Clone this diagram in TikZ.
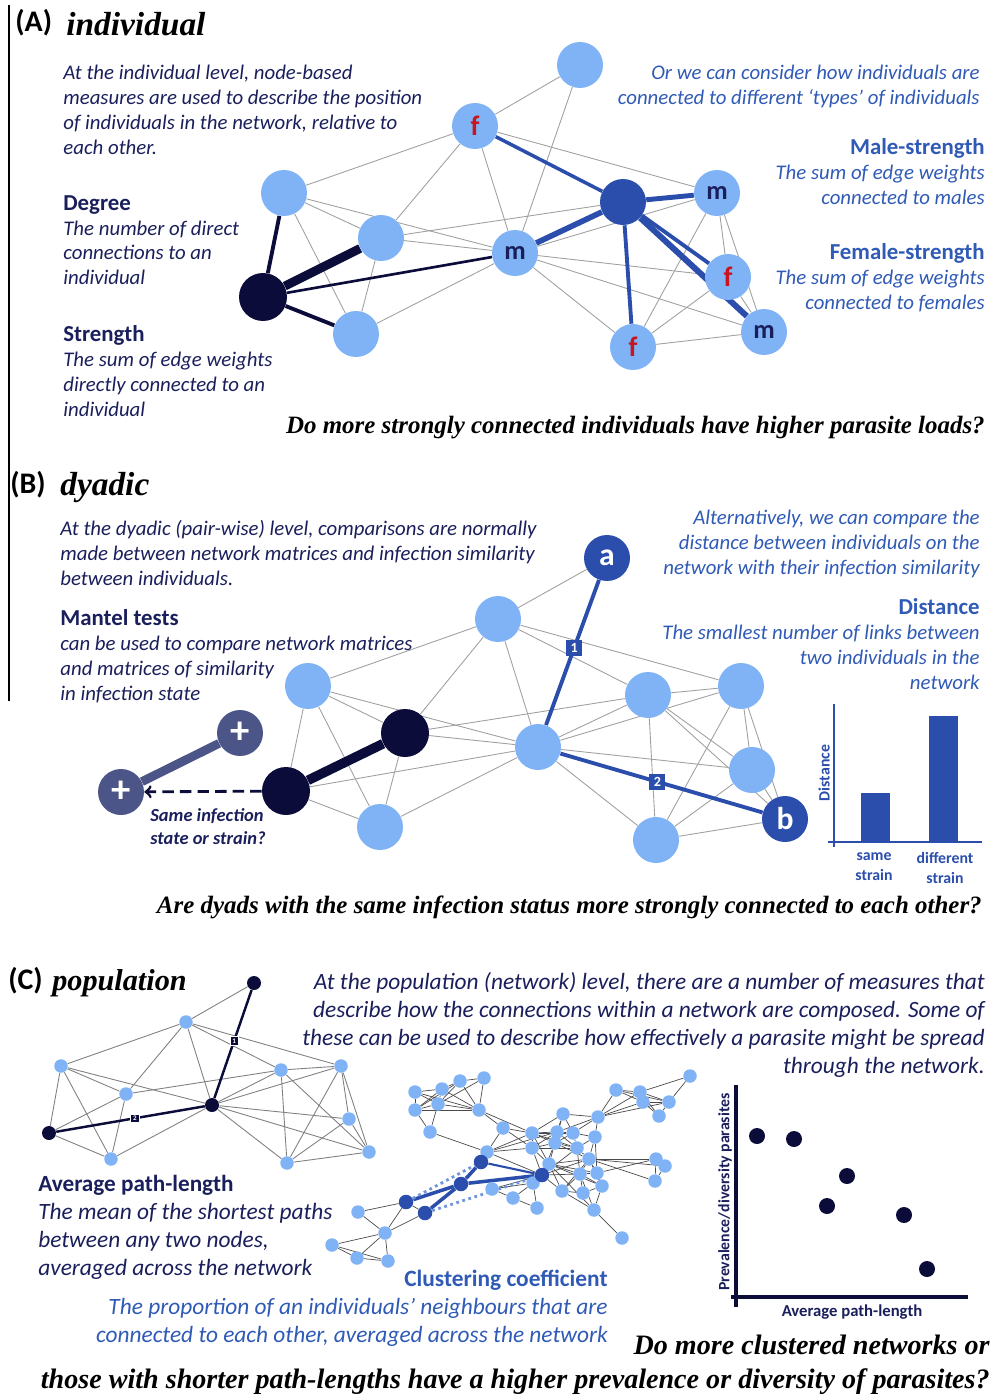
\documentclass[tikz,border=0pt]{standalone}
\usepackage{fontspec}
\setmainfont{Carlito}
\newfontfamily\qfont{Liberation Serif}
\usetikzlibrary{positioning}

\definecolor{lightnode}{HTML}{80B3F5}
\definecolor{navynode}{HTML}{0B0C3A}
\definecolor{midblue}{HTML}{2B4EAD}
\definecolor{navytext}{HTML}{1A1F5C}
\definecolor{bluetext}{HTML}{2F5AB5}
\definecolor{slatenode}{HTML}{4B5588}
\definecolor{femred}{HTML}{C8141E}
\definecolor{edgegrey}{HTML}{A0A0A0}
\definecolor{netgrey}{HTML}{4A4A4A}
\definecolor{dotblue}{HTML}{6F95DD}

\newcommand{\bodyfont}{\fontsize{11.85}{14.17}\selectfont}
\newcommand{\popfont}{\fontsize{13.3}{15.87}\selectfont}
\newcommand{\headfont}{\upshape\bfseries\fontsize{13}{14.17}\selectfont}

\pgfdeclarelayer{edges}
\pgfsetlayers{edges,main}

\tikzset{
  lnode/.style={circle, fill=lightnode, minimum size=0.92cm, inner sep=0},
  darknode/.style={lnode, fill=navynode, minimum size=0.96cm},
  sexnode/.style={lnode, fill=midblue},
  mnode/.style={lnode, text=navytext, font=\bfseries\fontsize{15}{15}\selectfont},
  fnode/.style={lnode, text=femred, font=\bfseries\fontsize{16}{16}\selectfont},
  endnode/.style={lnode, fill=midblue, text=white, font=\bfseries\fontsize{18}{18}\selectfont},
  plusnode/.style={lnode, fill=slatenode, text=white, font=\bfseries\fontsize{22}{22}\selectfont},
  tlight/.style={circle, fill=lightnode, minimum size=0.27cm, inner sep=0},
  tnavy/.style={circle, fill=navynode, minimum size=0.28cm, inner sep=0},
  tblue/.style={circle, fill=midblue, minimum size=0.29cm, inner sep=0},
  dot/.style={circle, fill=navynode, minimum size=0.32cm, inner sep=0},
  edge/.style={draw=edgegrey, line width=0.5pt},
  netedge/.style={draw=netgrey, line width=0.4pt},
  navyedge/.style={draw=navynode},
  blueedge/.style={draw=midblue},
  numbox/.style={fill=midblue, text=white, font=\bfseries\fontsize{8}{8}\selectfont, minimum size=0.32cm, inner sep=0},
  minibox/.style={fill=navynode, draw=white, line width=0.3pt, text=white, font=\bfseries\fontsize{4}{4}\selectfont, minimum size=0.17cm, inner sep=0},
  panel/.style={inner sep=0, font=\bfseries\fontsize{17}{17}\selectfont, anchor=base west},
  ptitle/.style={inner sep=0, font=\qfont\bfseries\itshape\fontsize{19}{19}\selectfont, anchor=base west},
  question/.style={inner sep=0, font=\qfont\bfseries\itshape\fontsize{14.2}{14.2}\selectfont, anchor=base east},
  lefttext/.style={inner sep=0, text=navytext, font=\bodyfont\itshape, align=left, anchor=north west},
  righttext/.style={inner sep=0, text=bluetext, font=\bodyfont\itshape, align=right, anchor=north east},
  axlabel/.style={inner sep=0, font=\bfseries\fontsize{9}{11.3}\selectfont, align=center},
}

\begin{document}
\begin{tikzpicture}[x=0.02cm, y=-0.02cm]
\useasboundingbox (0,0) rectangle (994,1395);

% (A) individual
\draw[line width=0.8pt] (9,5) -- (9,701);
\node[panel] (alab) at (15,32) {(A)};
\node[ptitle] (atitle) at (66,36) {individual};

\node[lefttext] (aintro) at (63,65) {At the individual level, node-based\\ measures are used to describe the position\\ of individuals in the network, relative to\\ each other.};
\node[lefttext] (adegree) at (63,195) {{\headfont Degree}\\ The number of direct\\ connections to an\\ individual};
\node[lefttext] (astrength) at (63,325) {{\headfont Strength}\\ The sum of edge weights\\ directly connected to an\\ individual};
\node[righttext] (atypes) at (980,65) {Or we can consider how individuals are\\ connected to different `types' of individuals};
\node[righttext] (amale) at (985,138) {{\headfont Male-strength}\\ The sum of edge weights\\ connected to males};
\node[righttext] (afemale) at (985,243) {{\headfont Female-strength}\\ The sum of edge weights\\ connected to females};
\node[question] (aquest) at (985,433) {Do more strongly connected individuals have higher parasite loads?};

\node[lnode] (atop) at (580,65) {};
\node[fnode] (af1) at (475,126) {f};
\node[lnode] (al1) at (284,193) {};
\node[lnode] (al2) at (381,238) {};
\node[darknode] (afocal) at (263,297) {};
\node[lnode] (al3) at (356,334) {};
\node[mnode] (am1) at (515,253) {m};
\node[sexnode] (asex) at (623,202) {};
\node[mnode] (am2) at (717,193) {m};
\node[fnode] (af2) at (728,277) {f};
\node[mnode] (am3) at (764,332) {m};
\node[fnode] (af3) at (633,347) {f};

\begin{pgfonlayer}{edges}
\foreach \u/\v in {atop/af1, atop/am1, af1/al1, af1/al2, af1/am1, af1/am2, al1/al2, al1/am1, al1/al3,
  al2/am1, al2/asex, al2/al3, al3/am1, am1/am2, am1/af2, am1/am3, am1/af3, am2/af2, am2/am3,
  am2/af3, af2/am3, af2/af3, af3/am3}
  \draw[edge] (\u) -- (\v);
\draw[navyedge, line width=2.2pt] (afocal) -- (al1);
\draw[navyedge, line width=5pt] (afocal) -- (al2);
\draw[navyedge, line width=1.5pt] (afocal) -- (am1);
\draw[navyedge, line width=2.2pt] (afocal) -- (al3);
\draw[blueedge, line width=2pt] (asex) -- (af1);
\draw[blueedge, line width=3.2pt] (asex) -- (am1);
\draw[blueedge, line width=2.8pt] (asex) -- (am2);
\draw[blueedge, line width=2.2pt] (asex) -- (af2);
\draw[blueedge, line width=3.4pt] (asex) -- (am3);
\draw[blueedge, line width=2.2pt] (asex) -- (af3);
\end{pgfonlayer}

% (B) dyadic
\node[panel] (blab) at (10,493) {(B)};
\node[ptitle] (btitle) at (60,495) {dyadic};

\node[lefttext] (bintro) at (60,520) {At the dyadic (pair-wise) level, comparisons are normally\\ made between network matrices and infection similarity\\ between individuals.};
\node[lefttext] (bmantel) at (60,609) {{\headfont Mantel tests}\\ can be used to compare network matrices\\ and matrices of similarity\\ in infection state};
\node[righttext] (balt) at (980,510) {Alternatively, we can compare the\\ distance between individuals on the\\ network with their infection similarity};
\node[righttext] (bdist) at (980,598) {{\headfont Distance}\\ The smallest number of links between\\ two individuals in the\\ network};
\node[lefttext, font=\bfseries\itshape\fontsize{10.5}{13}\selectfont] (bsame) at (150,808) {Same infection\\ state or strain?};
\node[question] (bquest) at (982,913) {Are dyads with the same infection status more strongly connected to each other?};

\node[endnode] (ba) at (607,558) {a};
\node[lnode] (bp1) at (498,619) {};
\node[lnode] (bp2) at (308,686) {};
\node[darknode] (bn1) at (405,733) {};
\node[darknode] (bn2) at (286,791) {};
\node[lnode] (bp3) at (380,827) {};
\node[lnode] (bc) at (538,747) {};
\node[lnode] (br1) at (648,695) {};
\node[lnode] (br2) at (741,686) {};
\node[lnode] (br3) at (752,770) {};
\node[endnode] (bb) at (785,819) {b};
\node[lnode] (br4) at (656,840) {};
\node[plusnode] (bplus1) at (240,733) {+};
\node[plusnode] (bplus2) at (121,792) {+};

\begin{pgfonlayer}{edges}
\foreach \u/\v in {ba/bp1, bp1/bp2, bp1/bn1, bp1/bc, bp1/br1, bp1/br2, bp2/bn1, bp2/bc, bp2/bn2,
  bp2/bp3, bn1/bc, bn1/bp3, bn1/br1, bn2/bc, bn2/bp3, bp3/bc, bc/br1, bc/br2, bc/br3, bc/br4,
  br1/br2, br1/br3, br1/br4, br1/bb, br2/br3, br2/bb, br2/br4, br3/br4, br3/bb, br4/bb}
  \draw[edge] (\u) -- (\v);
\draw[navyedge, line width=5.5pt] (bn1) -- (bn2);
\draw[draw=slatenode, line width=5pt] (bplus1) -- (bplus2);
\draw[blueedge, line width=2.2pt] (ba) -- node[numbox, pos=0.47] (bstep1) {1} (bc);
\draw[blueedge, line width=2.2pt] (bc) -- node[numbox, pos=0.48] (bstep2) {2} (bb);
\end{pgfonlayer}
\draw[navyedge, line width=1.6pt, dash pattern=on 6.5pt off 3.5pt, ->] (bn2) -- (bplus2);

% distance bar chart
\draw[midblue, line width=1.6pt] (834,704) -- (834,847);
\draw[midblue, line width=1.6pt] (828,842) -- (982,842);
\fill[midblue] (861,842) rectangle (890,793);
\fill[midblue] (929,842) rectangle (958,716);
\node[axlabel, text=midblue, rotate=90] (bdistlab) at (824,773) {Distance};
\node[axlabel, text=midblue, anchor=north] (bsamelab) at (874,852) {same\\ strain};
\node[axlabel, text=midblue, anchor=north] (bdifflab) at (945,852) {different\\ strain};

% (C) population
\node[panel] (clab) at (8,989) {(C)};
\node[ptitle, font=\qfont\bfseries\itshape\fontsize{17.2}{17.2}\selectfont] (ctitle) at (52,990) {population};

\node[righttext, text=navytext, font=\popfont\itshape] (cintro) at (985,972) {At the population (network) level, there are a number of measures that\\ describe how the connections within a network are composed. Some of\\ these can be used to describe how effectively a parasite might be spread\\ through the network.};
\node[lefttext, font=\popfont\itshape] (cpath) at (38,1175) {{\upshape\bfseries\fontsize{13.2}{15.87}\selectfont Average path-length}\\ The mean of the shortest paths\\ between any two nodes,\\ averaged across the network};
\node[righttext, font=\popfont\itshape] (cclust) at (608,1270) {{\upshape\bfseries\fontsize{13.3}{15.87}\selectfont Clustering coefficient}\\ The proportion of an individuals' neighbours that are\\ connected to each other, averaged across the network};
\node[question, font=\qfont\bfseries\itshape\fontsize{16}{16}\selectfont] (cquest1) at (990,1354) {Do more clustered networks or};
\node[question, font=\qfont\bfseries\itshape\fontsize{16}{16}\selectfont] (cquest2) at (990,1388) {those with shorter path-lengths have a higher prevalence or diversity of parasites?};

% small network
\node[tnavy] (ctop) at (254,983) {};
\node[tlight] (ca1) at (186,1022) {};
\node[tlight] (ca2) at (61,1066) {};
\node[tlight] (ca3) at (126,1094) {};
\node[tnavy] (chub) at (212,1105) {};
\node[tnavy] (cleft) at (49,1133) {};
\node[tlight] (ca4) at (111,1159) {};
\node[tlight] (ca5) at (281,1070) {};
\node[tlight] (ca6) at (341,1066) {};
\node[tlight] (ca7) at (349,1119) {};
\node[tlight] (ca8) at (369,1152) {};
\node[tlight] (ca9) at (287,1163) {};

\begin{pgfonlayer}{edges}
\foreach \u/\v in {ctop/ca1, ca1/ca2, ca1/ca3, ca1/chub, ca1/ca5, ca1/ca6, ca2/ca3, ca2/chub,
  ca2/cleft, ca2/ca4, ca3/ca5, ca3/cleft, ca3/ca4, cleft/ca4, ca4/chub, chub/ca5, chub/ca6,
  chub/ca7, chub/ca8, chub/ca9, ca5/ca6, ca5/ca8, ca5/ca9, ca6/ca7, ca6/ca8, ca6/ca9,
  ca7/ca8, ca7/ca9, ca9/ca8}
  \draw[edge, draw=gray] (\u) -- (\v);
\draw[navyedge, line width=1.4pt] (ctop) -- node[minibox, pos=0.47] (cstep1) {1} (chub);
\draw[navyedge, line width=1.4pt] (cleft) -- node[minibox, pos=0.53] (cstep2) {2} (chub);
\end{pgfonlayer}

% clustered network
\foreach \n/\x/\y in {g1/415/1092, g2/442/1089, g3/460/1081, g4/484/1078, g5/415/1110, g6/438/1104,
  g7/479/1110, g8/430/1132, h1/503/1128, h2/532/1133, h3/557/1132, h4/573/1133, h5/563/1114,
  h6/598/1117, h7/595/1137, h8/532/1148, h9/555/1143, h10/577/1148, h11/487/1152, h12/549/1164,
  h13/589/1159, h14/580/1174, h15/597/1173, h16/602/1186, h17/562/1191, h18/583/1193,
  h19/533/1183, h20/513/1198, h21/537/1208, h22/492/1189, h23/594/1210, h24/622/1238,
  k1/616/1090, k2/640/1092, k3/643/1102, k4/669/1102, k5/659/1116, k6/690/1076,
  k7/656/1159, k8/665/1166, k9/655/1181, q1/358/1212, q2/385/1233, q3/332/1245,
  q4/357/1258, q5/388/1261}
  \node[tlight] (\n) at (\x,\y) {};
\node[tblue] (w1) at (481,1162) {};
\node[tblue] (w2) at (461,1184) {};
\node[tblue] (w3) at (542,1175) {};
\node[tblue] (w4) at (406,1202) {};
\node[tblue] (w5) at (425,1213) {};

\begin{pgfonlayer}{edges}
\foreach \u/\v in {g1/g2, g1/g5, g1/g6, g1/g7, g2/g3, g2/g6, g2/g7, g2/g5, g3/g4, g3/g6, g3/g7,
  g4/g7, g5/g6, g5/g7, g5/g8, g6/g7, g6/g8, g8/h11, g7/h2, g7/h1, g3/g5, g4/g6,
  h1/h2, h1/h11, h11/w1, h11/h8, h11/h2, h11/h3, h11/w3, h2/h3, h2/h4, h2/h5, h2/h9, h2/h8,
  h3/h4, h3/h5, h3/h9, h3/h10, h4/h6, h4/h7, h4/h10, h5/h6, h5/h9, h5/h4, h6/h7, h6/k1, h6/k2,
  h6/k3, h6/k4, h8/h9, h8/h12, h9/h10, h9/h12, h10/h13, h10/h7, h7/h13, h12/h13, h12/h14,
  h12/h16, h12/h17, h12/h19, h13/h14, h13/h15, h13/k7, h13/k8, h13/k9, h14/h15, h14/h16,
  h14/h18, h15/h16, h16/h18, h17/h18, h17/h14, h17/h13, h19/h20, h19/h21, h20/h21, h22/h20,
  h22/h19, h23/h24, h23/h16, h23/h17, h23/h12, w3/h14, w3/h17, w3/h10, w3/h9, w3/h8, w3/h13,
  w3/h12, w3/h22, h1/h8, h2/h10, h3/h6, h8/h10, h9/h13, h10/h14, h12/h15, h7/h15, h13/h16,
  h2/h12, h4/h9, h8/h3, h14/h23, h15/k7,
  k1/k2, k1/k3, k2/k3, k2/k4, k2/k6, k3/k4, k3/k5, k4/k5, k4/k6, k1/k4, k2/k5, k7/k8, k7/k9,
  k8/k9, q1/w4, q1/q2, w4/q2, w5/q2, q2/q3, q2/q4, q2/q5, q3/q4, q3/q5, q4/q5, w4/w5}
  \draw[netedge] (\u) -- (\v);
\draw[blueedge, line width=1.2pt] (w1) -- (w3);
\draw[blueedge, line width=2pt] (w2) -- (w1);
\draw[blueedge, line width=2pt] (w2) -- (w3);
\draw[blueedge, line width=2pt] (w4) -- (w2);
\draw[blueedge, line width=2pt] (w5) -- (w2);
\draw[dotblue, line width=1.6pt, dotted] (w4) -- (w1);
\draw[dotblue, line width=1.6pt, dotted] (w5) -- (w3);
\end{pgfonlayer}

% scatter plot
\draw[navynode, line width=2.2pt] (736,1085) -- (736,1307);
\draw[navynode, line width=2.2pt] (731,1297) -- (968,1297);
\node[dot] (dot1) at (757,1136) {};
\node[dot] (dot2) at (794,1139) {};
\node[dot] (dot3) at (847,1176) {};
\node[dot] (dot4) at (827,1206) {};
\node[dot] (dot5) at (904,1215) {};
\node[dot] (dot6) at (927,1269) {};
\node[axlabel, text=navytext, font=\bfseries\fontsize{9.5}{11}\selectfont] (cxlab) at (852,1312) {Average path-length};
\node[axlabel, text=navytext, font=\bfseries\fontsize{9}{11}\selectfont, rotate=90] (cylab) at (725,1192) {Prevalence/diversity parasites};

\end{tikzpicture}
\end{document}
